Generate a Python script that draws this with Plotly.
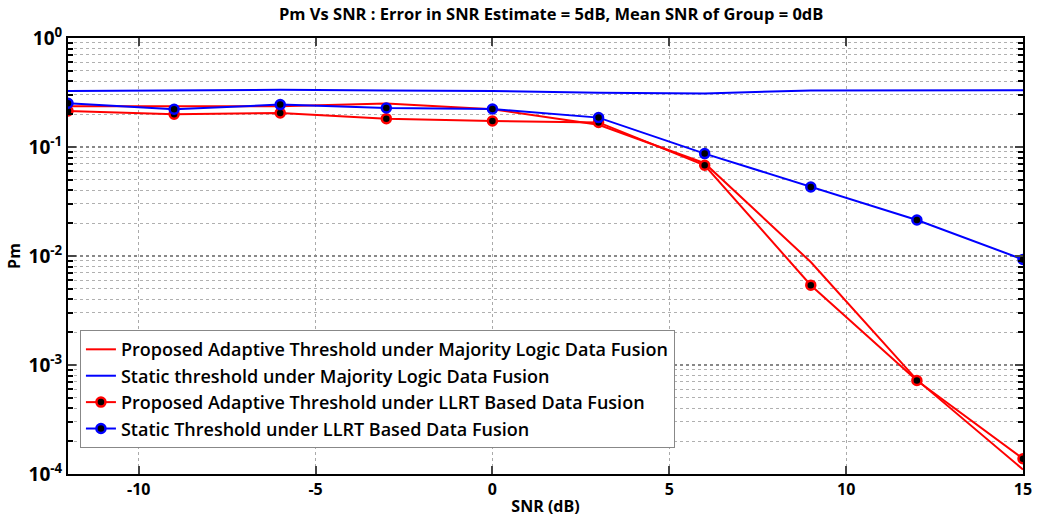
import plotly.graph_objects as go

snr = [-12, -9, -6, -3, 0, 3, 6, 9, 12, 15]
adaptive_majority = [0.237, 0.236, 0.236, 0.25, 0.222, 0.16, 0.071, 0.0088, 0.00073, 0.00011]
static_majority = [0.326, 0.328, 0.335, 0.33, 0.326, 0.315, 0.31, 0.33, 0.332, 0.332]
adaptive_llrt = [0.214, 0.2, 0.205, 0.182, 0.173, 0.168, 0.068, 0.0054, 0.00072, 0.000138]
static_llrt = [0.252, 0.222, 0.245, 0.228, 0.223, 0.186, 0.087, 0.043, 0.0214, 0.0093]

x_tick_vals = [-10, -5, 0, 5, 10, 15]
x_tick_text = ["-10", "-5", "0", "5", "10", "15"]
y_tick_vals = [1e-4, 1e-3, 1e-2, 1e-1, 1]
y_tick_text = ["10<sup>-4</sup>", "10<sup>-3</sup>", "10<sup>-2</sup>", "10<sup>-1</sup>", "10<sup>0</sup>"]

names = [
    "Proposed Adaptive Threshold under Majority Logic Data Fusion",
    "Static threshold under Majority Logic Data Fusion",
    "Proposed Adaptive Threshold under LLRT Based Data Fusion",
    "Static Threshold under LLRT Based Data Fusion",
]

RED = "#ff0000"
BLUE = "#0000ff"
FONT = "Open Sans"

fig = go.Figure()
fig.add_trace(go.Scatter(x=snr, y=adaptive_majority, mode="lines", name=names[0],
                         line=dict(color=RED, width=2)))
fig.add_trace(go.Scatter(x=snr, y=static_majority, mode="lines", name=names[1],
                         line=dict(color=BLUE, width=2)))
fig.add_trace(go.Scatter(x=snr, y=adaptive_llrt, mode="lines+markers", name=names[2],
                         line=dict(color=RED, width=2),
                         marker=dict(size=9, color="black", line=dict(color=RED, width=2.5))))
fig.add_trace(go.Scatter(x=snr, y=static_llrt, mode="lines+markers", name=names[3],
                         line=dict(color=BLUE, width=2),
                         marker=dict(size=9, color="black", line=dict(color=BLUE, width=2.5))))

fig.update_layout(
    width=1040, height=522,
    margin=dict(l=68, r=8, t=38, b=48),
    plot_bgcolor="white", paper_bgcolor="white",
    title=dict(text="Pm Vs SNR : Error in SNR Estimate = 5dB, Mean SNR of Group = 0dB",
               x=0.53, xanchor="center", y=0.972, yanchor="middle",
               font=dict(family=FONT, size=16.5, color="black", weight="bold")),
    font=dict(family=FONT, color="black"),
    legend=dict(x=0.0125, y=0.33, xanchor="left", yanchor="top",
                bgcolor="white", bordercolor="#888888", borderwidth=1,
                font=dict(family=FONT, size=18, color="black", weight=600)),
    xaxis=dict(range=[-12, 15], tickvals=x_tick_vals, ticktext=x_tick_text,
               ticks="inside", ticklen=8, tickwidth=2,
               showline=True, linewidth=2, linecolor="black", mirror="ticks",
               showgrid=True, gridcolor="#aaaaaa", griddash="dot", gridwidth=1, zeroline=False,
               tickfont=dict(family=FONT, size=16, weight="bold"),
               title=dict(text="SNR (dB)", font=dict(family=FONT, size=16, weight="bold"), standoff=2)),
    yaxis=dict(type="log", range=[-4, 0], tickvals=y_tick_vals, ticktext=y_tick_text,
               ticks="inside", ticklen=8, tickwidth=2,
               showline=True, linewidth=2, linecolor="black", mirror="ticks",
               showgrid=True, gridcolor="#888888", griddash="dot", gridwidth=1.5, zeroline=False,
               tickfont=dict(family=FONT, size=19, weight="bold"),
               minor=dict(dtick="D1", ticks="inside", ticklen=5, tickwidth=1.5, tickcolor="black",
                          showgrid=True, gridcolor="#b0b0b0", griddash="dot", gridwidth=1),
               title=dict(text="Pm", font=dict(family=FONT, size=16, weight="bold"), standoff=4)),
)

fig.write_html("out.html")
